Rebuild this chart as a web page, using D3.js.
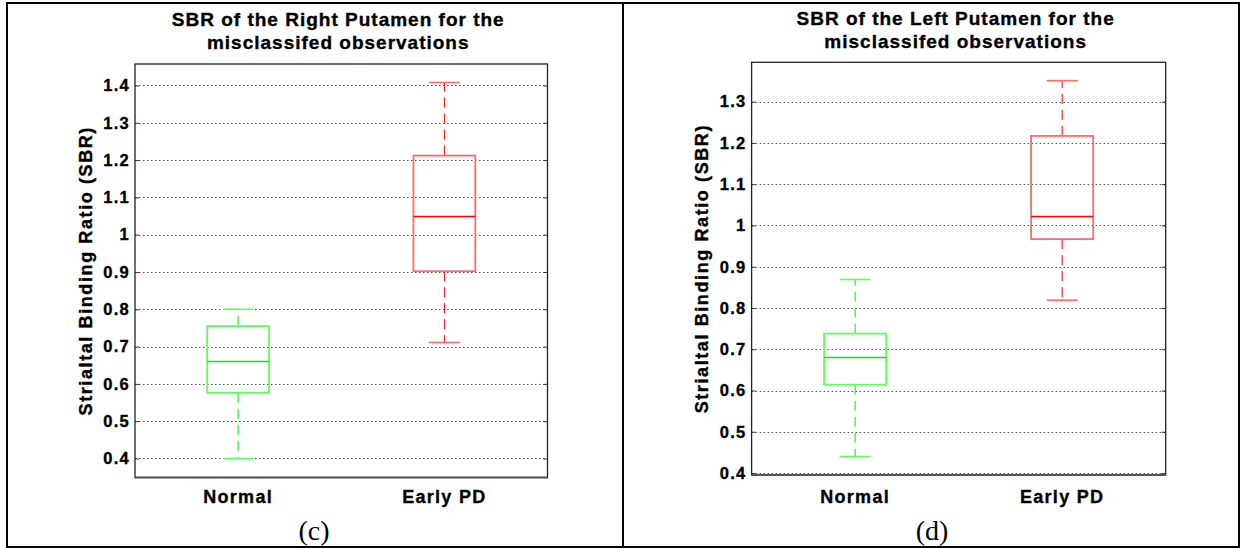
<!DOCTYPE html>
<html><head><meta charset="utf-8">
<script src="https://cdn.jsdelivr.net/npm/d3@7"></script>
<style>
html,body{margin:0;padding:0;background:#fff;}
svg{display:block;}
</style></head>
<body>
<script>
// ---- data ----
const categories = ["Normal", "Early PD"];
// Right putamen (c): [low whisker, Q1, median, Q3, high whisker]
const rightNormal = [0.40, 0.576, 0.660, 0.755, 0.80];
const rightEarlyPD = [0.711, 0.902, 1.049, 1.212, 1.408];
// Left putamen (d)
const leftNormal = [0.44, 0.614, 0.680, 0.738, 0.869];
const leftEarlyPD = [0.819, 0.967, 1.022, 1.217, 1.351];
const ticksC = [0.4, 0.5, 0.6, 0.7, 0.8, 0.9, 1, 1.1, 1.2, 1.3, 1.4];
const ticksD = [0.4, 0.5, 0.6, 0.7, 0.8, 0.9, 1, 1.1, 1.2, 1.3];
const titleC = ["SBR of the Right Putamen for the", "misclassifed observations"];
const titleD = ["SBR of the Left Putamen for the", "misclassifed observations"];
const yLabel = "Strialtal Binding Ratio (SBR)";
const captions = ["(c)", "(d)"];
const colors = ["#00ee00", "#ff0000"];
const boxColors = ["#5dff5d", "#ff6a6a"];

const W = 1242, H = 548;
const svg = d3.select("body").append("svg").attr("width", W).attr("height", H);

// outer frame and divider
svg.append("rect").attr("x", 7).attr("y", 3).attr("width", 1232).attr("height", 544)
  .attr("fill", "none").attr("stroke", "#000").attr("stroke-width", 2);
svg.append("line").attr("x1", 623).attr("x2", 623).attr("y1", 3).attr("y2", 547)
  .attr("stroke", "#000").attr("stroke-width", 2);

const panels = [
  {x0:135, x1:547.5, y0:64, y1:477.5, domain:[0.349, 1.4576], ticks:ticksC,
   title:titleC, tb:[26, 49], data:[rightNormal, rightEarlyPD], ylx:92, caption:captions[0], capx:314, xlb:503},
  {x0:751.6, x1:1165.7, y0:62.3, y1:475, domain:[0.3952, 1.3955], ticks:ticksD,
   title:titleD, tb:[25, 47.5], data:[leftNormal, leftEarlyPD], ylx:708, caption:captions[1], capx:932, xlb:502.5}
];

const sans = "'Liberation Sans', Arial, Helvetica, sans-serif";

function heavy(sel) {
  return sel.attr("font-family", sans).attr("font-weight", "bold").attr("fill", "#000")
    .attr("stroke", "#000").attr("stroke-width", 0.35);
}

panels.forEach(p => {
  const g = svg.append("g");
  const x = d3.scaleLinear().domain([0.5, 2.5]).range([p.x0, p.x1]);
  const y = d3.scaleLinear().domain(p.domain).range([p.y1, p.y0]);
  const cx = (p.x0 + p.x1) / 2;

  // grid
  g.append("g").selectAll("line").data(p.ticks).join("line")
    .attr("x1", p.x0).attr("x2", p.x1)
    .attr("y1", d => Math.round(y(d)) + 0.5).attr("y2", d => Math.round(y(d)) + 0.5)
    .attr("stroke", "#555").attr("stroke-width", 1).attr("stroke-dasharray", "1.5,2.5");

  // y axis with inward ticks
  const yAxis = d3.axisLeft(y).tickValues(p.ticks).tickSize(-4).tickPadding(5)
    .tickFormat(d => d3.format("")(+d.toFixed(1)));
  const ya = g.append("g").attr("transform", `translate(${p.x0},0)`).call(yAxis);
  ya.select(".domain").remove();
  ya.selectAll("line").attr("stroke", "#333");
  heavy(ya.selectAll("text")).attr("font-size", 16.5).attr("letter-spacing", "1.3px");
  const yr = d3.axisRight(y).tickValues(p.ticks).tickSize(-4).tickFormat("");
  const yra = g.append("g").attr("transform", `translate(${p.x1},0)`).call(yr);
  yra.select(".domain").remove();
  yra.selectAll("line").attr("stroke", "#333");

  // axes box
  g.append("rect").attr("x", p.x0).attr("y", p.y0).attr("width", p.x1 - p.x0).attr("height", p.y1 - p.y0)
    .attr("fill", "none").attr("stroke", "#222").attr("stroke-width", 1.3);
  g.append("line").attr("x1", p.x0).attr("x2", p.x1).attr("y1", p.y1).attr("y2", p.y1)
    .attr("stroke", "#555").attr("stroke-width", 2);

  // boxes
  p.data.forEach((d, i) => {
    const c = x(i + 1);
    const bw = x(1.15) - x(1), cw = x(1.075) - x(1);
    const col = colors[i], bcol = boxColors[i];
    // whiskers (dashed)
    g.append("line").attr("x1", c).attr("x2", c).attr("y1", y(d[3])).attr("y2", y(d[4]))
      .attr("stroke", col).attr("stroke-width", 1).attr("stroke-dasharray", "10,6");
    g.append("line").attr("x1", c).attr("x2", c).attr("y1", y(d[1])).attr("y2", y(d[0]))
      .attr("stroke", col).attr("stroke-width", 1).attr("stroke-dasharray", "10,6");
    // caps
    [d[0], d[4]].forEach(v => {
      g.append("line").attr("x1", c - cw).attr("x2", c + cw).attr("y1", y(v)).attr("y2", y(v))
        .attr("stroke", bcol).attr("stroke-width", 1.6);
    });
    // box
    g.append("rect").attr("x", c - bw).attr("y", y(d[3])).attr("width", 2 * bw).attr("height", y(d[1]) - y(d[3]))
      .attr("fill", "none").attr("stroke", bcol).attr("stroke-width", 1.8);
    // median
    g.append("line").attr("x1", c - bw).attr("x2", c + bw).attr("y1", y(d[2])).attr("y2", y(d[2]))
      .attr("stroke", col).attr("stroke-width", 1.5);
  });

  // category labels
  heavy(g.append("g").selectAll("text").data(categories).join("text")
    .attr("x", (d, i) => x(i + 1)).attr("y", p.xlb).attr("text-anchor", "middle"))
    .attr("font-size", 18).attr("letter-spacing", "1.3px").text(d => d);

  // title
  p.title.forEach((t, k) => {
    heavy(g.append("text").attr("x", cx - 3).attr("y", p.tb[k]).attr("text-anchor", "middle"))
      .attr("font-size", 19).attr("letter-spacing", "1px").text(t);
  });

  // y label
  heavy(g.append("text").attr("transform", `translate(${p.ylx},${(p.y0 + p.y1) / 2}) rotate(-90)`)
    .attr("text-anchor", "middle"))
    .attr("font-size", 18).attr("letter-spacing", "1.6px").text(yLabel);

  // caption
  g.append("text").attr("x", p.capx).attr("y", 540).attr("text-anchor", "middle")
    .attr("font-family", "'Liberation Serif', 'Times New Roman', serif").attr("font-size", 28)
    .text(p.caption);
});
</script>
</body></html>
